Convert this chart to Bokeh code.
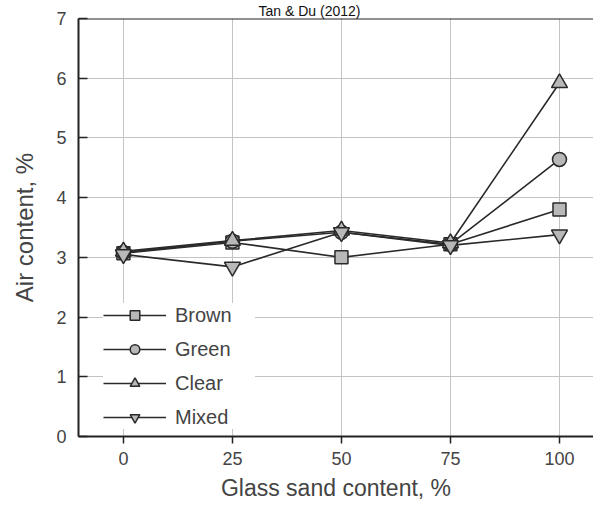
from bokeh.plotting import figure
from bokeh.models import Range1d, FixedTicker, Legend, LegendItem, Span
from bokeh.embed import file_html
from bokeh.resources import INLINE

# ---- data ----
glass_sand = [0, 25, 50, 75, 100]
brown = [3.07, 3.25, 3.00, 3.22, 3.80]
green = [3.08, 3.27, 3.42, 3.22, 4.64]
clear = [3.10, 3.28, 3.45, 3.24, 5.92]
mixed = [3.05, 2.84, 3.42, 3.20, 3.38]
series_names = ["Brown", "Green", "Clear", "Mixed"]
x_ticks = [0, 25, 50, 75, 100]
y_ticks = [0, 1, 2, 3, 4, 5, 6, 7]
title_text = "Tan & Du (2012)"
x_label = "Glass sand content, %"
y_label = "Air content, %"

FONT = "Liberation Sans"
LINE_C = "#2a2a2a"
FILL_C = "#b8b8b8"
TEXT_C = "#444444"

p = figure(width=593, height=509, output_backend="svg", toolbar_location=None,
           x_range=Range1d(-10.3, 107.8), y_range=Range1d(0, 7),
           min_border_left=78, min_border_right=0, min_border_top=0,
           min_border_bottom=73, title=title_text)
p.outline_line_color = None
p.background_fill_color = "white"
p.border_fill_color = "white"

p.title.text_font = FONT
p.title.text_font_size = "14px"
p.title.text_font_style = "normal"
p.title.text_color = "#111111"
p.title.align = "left"
p.title.offset = 180
p.title.standoff = 0

# top border line
p.add_layout(Span(location=7, dimension="width", line_color="#222222", line_width=2))

# grid
p.xgrid.ticker = FixedTicker(ticks=x_ticks)
p.ygrid.ticker = FixedTicker(ticks=y_ticks)
for g in (p.xgrid, p.ygrid):
    g.grid_line_color = "#c4c4c4"
    g.grid_line_width = 1

# axes
p.xaxis.ticker = FixedTicker(ticks=x_ticks)
p.yaxis.ticker = FixedTicker(ticks=y_ticks)
for ax in (p.xaxis, p.yaxis):
    ax.axis_line_color = "#222222"
    ax.axis_line_width = 2
    ax.major_tick_line_color = "#222222"
    ax.major_tick_line_width = 1.5
    ax.minor_tick_line_color = None
    ax.major_label_text_font = FONT
    ax.major_label_text_font_size = "18px"
    ax.major_label_text_color = TEXT_C
    ax.axis_label_text_font = FONT
    ax.axis_label_text_font_style = "normal"
    ax.axis_label_text_color = TEXT_C

p.xaxis.major_tick_out = 7
p.xaxis.major_tick_in = 0
p.xaxis.major_label_standoff = 8
p.xaxis.axis_label = x_label
p.xaxis.axis_label_standoff = 7
p.xaxis.axis_label_text_font_size = "23px"

p.yaxis.major_tick_out = 0
p.yaxis.major_tick_in = 9
p.yaxis.major_label_standoff = 12
p.yaxis.axis_label = y_label
p.yaxis.axis_label_standoff = 15
p.yaxis.axis_label_text_font_size = "24px"

series = [brown, green, clear, mixed]
markers = ["square", "circle", "triangle", "inverted_triangle"]
sizes = [13, 14, 16, 16]
items = []
for name, ys, mk, sz in zip(series_names, series, markers, sizes):
    r1 = p.line(glass_sand, ys, line_color=LINE_C, line_width=1.6)
    r2 = p.scatter(glass_sand, ys, marker=mk, size=sz, fill_color=FILL_C,
                   line_color=LINE_C, line_width=1.5)
    items.append(LegendItem(label=name, renderers=[r1, r2]))

legend = Legend(items=items, location=(25, 7), orientation="vertical",
                glyph_width=63, glyph_height=24, spacing=10, padding=6,
                margin=0, label_standoff=9, label_width=80,
                label_text_font=FONT, label_text_font_size="20px",
                label_text_color=TEXT_C, border_line_color=None,
                background_fill_color="white", background_fill_alpha=1.0)
p.add_layout(legend, "center")

open("out.html", "w").write(file_html(p, INLINE))
